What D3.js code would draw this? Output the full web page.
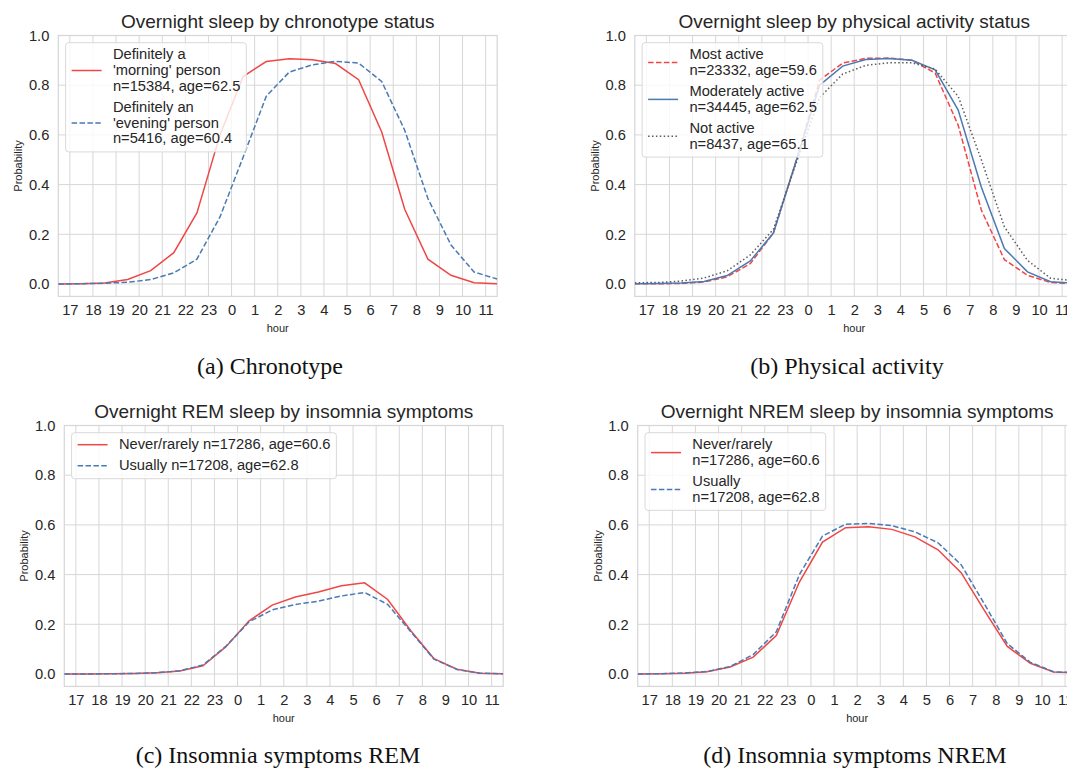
<!DOCTYPE html>
<html><head><meta charset="utf-8">
<script src="https://cdn.jsdelivr.net/npm/d3@7"></script>
<style>body{margin:0;background:#fff}</style>
</head><body><svg id="chart" width="1067" height="768"></svg>
<script>
// ---- data ----
const hours = [16.5,17.5,18.5,19.5,20.5,21.5,22.5,23.5,24.5,25.5,26.5,27.5,28.5,29.5,30.5,31.5,32.5,33.5,34.5,35.5];
const tickHours = [17,18,19,20,21,22,23,24,25,26,27,28,29,30,31,32,33,34,35];
const tickLabels = ["17","18","19","20","21","22","23","0","1","2","3","4","5","6","7","8","9","10","11"];
const yTicks = [0,0.2,0.4,0.6,0.8,1.0];

const chronoMorning = [0.000,0.001,0.004,0.018,0.054,0.126,0.286,0.600,0.835,0.895,0.906,0.902,0.887,0.822,0.612,0.300,0.100,0.035,0.005,0.001];
const chronoEvening = [0.000,0.001,0.003,0.007,0.018,0.045,0.100,0.270,0.510,0.755,0.853,0.882,0.896,0.889,0.815,0.618,0.344,0.157,0.048,0.020];

const activeMost     = [0.001,0.001,0.002,0.008,0.029,0.082,0.205,0.500,0.820,0.889,0.908,0.909,0.900,0.849,0.639,0.298,0.098,0.035,0.006,0.001];
const activeModerate = [0.001,0.002,0.004,0.010,0.034,0.093,0.205,0.500,0.800,0.877,0.903,0.907,0.900,0.862,0.700,0.390,0.143,0.049,0.009,0.003];
const activeNot      = [0.005,0.006,0.012,0.024,0.053,0.117,0.220,0.490,0.750,0.845,0.880,0.890,0.890,0.865,0.755,0.500,0.230,0.095,0.023,0.013];

const remNever    = [0.000,0.000,0.001,0.002,0.005,0.012,0.033,0.110,0.214,0.277,0.310,0.330,0.355,0.367,0.300,0.174,0.062,0.019,0.003,0.001];
const remUsually  = [0.000,0.000,0.001,0.002,0.005,0.013,0.036,0.112,0.210,0.258,0.280,0.293,0.314,0.328,0.280,0.170,0.060,0.018,0.003,0.001];

const nremNever   = [0.000,0.001,0.003,0.009,0.028,0.068,0.155,0.370,0.531,0.589,0.593,0.582,0.552,0.500,0.408,0.257,0.111,0.043,0.008,0.004];
const nremUsually = [0.000,0.001,0.004,0.010,0.030,0.078,0.170,0.400,0.555,0.603,0.606,0.597,0.572,0.528,0.440,0.283,0.122,0.047,0.009,0.005];

const titles = ["Overnight sleep by chronotype status","Overnight sleep by physical activity status","Overnight REM sleep by insomnia symptoms","Overnight NREM sleep by insomnia symptoms"];
const captions = ["(a) Chronotype","(b) Physical activity","(c) Insomnia symptoms REM","(d) Insomnia symptoms NREM"];

// ---- styles ----
const RED = "#f04646", BLUE = "#4a7ab3", GRAY = "#5c5c5c";
const SOLID = null, DASHED = "5.5,2.4", DOTTED = "1.5,2.4";
const TEXT = "#262626", GRID = "#d7d7d7";
const SANS = "'Liberation Sans', Arial, sans-serif";
const FS = 14.7;

const panels = [
  {left:58.3, top:35.5, capX:270, capY:374, title:titles[0], caption:captions[0],
   series:[{v:chronoMorning,c:RED,d:SOLID,label:["Definitely a","'morning' person","n=15384, age=62.5"]},
           {v:chronoEvening,c:BLUE,d:DASHED,label:["Definitely an","'evening' person","n=5416, age=60.4"]}]},
  {left:634.8, top:35.5, capX:847, capY:374, title:titles[1], caption:captions[1],
   series:[{v:activeMost,c:RED,d:DASHED,label:["Most active","n=23332, age=59.6"]},
           {v:activeModerate,c:BLUE,d:SOLID,label:["Moderately active","n=34445, age=62.5"]},
           {v:activeNot,c:GRAY,d:DOTTED,label:["Not active","n=8437, age=65.1"]}]},
  {left:64.3, top:425.5, capX:278, capY:763, title:titles[2], caption:captions[2],
   series:[{v:remNever,c:RED,d:SOLID,label:["Never/rarely n=17286, age=60.6"]},
           {v:remUsually,c:BLUE,d:DASHED,label:["Usually n=17208, age=62.8"]}]},
  {left:637.7, top:425.5, capX:855, capY:763, title:titles[3], caption:captions[3],
   series:[{v:nremNever,c:RED,d:SOLID,label:["Never/rarely","n=17286, age=60.6"]},
           {v:nremUsually,c:BLUE,d:DASHED,label:["Usually","n=17208, age=62.8"]}]}
];

const svg = d3.select("#chart");
svg.append("rect").attr("width",1067).attr("height",768).attr("fill","#fff");

const plotW = 23.1*19, unitH = 248.5, plotH = unitH*1.05;

panels.forEach((p,pi) => {
  const x = d3.scaleLinear().domain([16.5,35.5]).range([p.left, p.left+plotW]);
  const y = d3.scaleLinear().domain([-0.05,1]).range([p.top+plotH, p.top]);
  const g = svg.append("g");
  const clipId = "clip"+pi;
  svg.append("defs").append("clipPath").attr("id",clipId)
     .append("rect").attr("x",p.left).attr("y",p.top).attr("width",plotW).attr("height",plotH);

  // grid
  g.append("g").selectAll("line").data(tickHours).join("line")
    .attr("x1",d=>x(d)).attr("x2",d=>x(d)).attr("y1",p.top).attr("y2",p.top+plotH)
    .attr("stroke",GRID).attr("stroke-width",1);
  g.append("g").selectAll("line").data(yTicks).join("line")
    .attr("x1",p.left).attr("x2",p.left+plotW).attr("y1",d=>y(d)).attr("y2",d=>y(d))
    .attr("stroke",GRID).attr("stroke-width",1);
  g.append("rect").attr("x",p.left).attr("y",p.top).attr("width",plotW).attr("height",plotH)
    .attr("fill","none").attr("stroke",GRID).attr("stroke-width",1.25);

  // axes
  const xa = g.append("g").attr("transform",`translate(0,${p.top+plotH})`)
    .call(d3.axisBottom(x).tickValues(tickHours).tickFormat((d,i)=>tickLabels[i]).tickSize(0).tickPadding(8));
  xa.select(".domain").remove();
  xa.selectAll("text").attr("font-family",SANS).attr("font-size",FS).attr("fill",TEXT);
  const ya = g.append("g").attr("transform",`translate(${p.left},0)`)
    .call(d3.axisLeft(y).tickValues(yTicks).tickFormat(d3.format(".1f")).tickSize(0).tickPadding(9));
  ya.select(".domain").remove();
  ya.selectAll("text").attr("font-family",SANS).attr("font-size",FS).attr("fill",TEXT);

  g.append("text").attr("x",p.left+plotW/2).attr("y",p.top+plotH+36)
    .attr("text-anchor","middle").attr("font-family",SANS).attr("font-size",11).attr("fill",TEXT).text("hour");
  g.append("text").attr("transform",`translate(${p.left-40},${p.top+plotH/2}) rotate(-90)`)
    .attr("text-anchor","middle").attr("dominant-baseline","central")
    .attr("font-family",SANS).attr("font-size",11).attr("fill",TEXT).text("Probability");

  g.append("text").attr("x",p.left+plotW/2).attr("y",p.top-7.2)
    .attr("text-anchor","middle").attr("font-family",SANS).attr("font-size",19).attr("fill",TEXT).text(p.title);

  // lines
  const line = d3.line().x((d,i)=>x(hours[i])).y(d=>y(d));
  const lg = g.append("g").attr("clip-path",`url(#${clipId})`);
  p.series.forEach(s => {
    lg.append("path").datum(s.v).attr("d",line).attr("fill","none")
      .attr("stroke",s.c).attr("stroke-width",1.5).attr("stroke-dasharray",s.d);
  });

  // legend
  const bx = p.left+7.3, by = p.top+7.2;
  const leg = g.append("g");
  const box = leg.append("rect");
  let yy = by + 16.5, maxW = 0;
  const tx = bx + 47.3;
  p.series.forEach((s,si) => {
    if (si>0) yy += 21 - 16;
    const first = yy;
    s.label.forEach((ln,li) => {
      if (li>0) yy += 15.8;
      const t = leg.append("text").attr("x",tx).attr("y",yy).attr("font-family",SANS)
        .attr("font-size",FS).attr("fill",TEXT).text(ln);
      maxW = Math.max(maxW, t.node().getComputedTextLength());
    });
    const hy = (first+yy)/2 - 4.5;
    leg.append("line").attr("x1",bx+6).attr("x2",bx+36).attr("y1",hy).attr("y2",hy)
      .attr("stroke",s.c).attr("stroke-width",1.5).attr("stroke-dasharray",s.d);
    yy += 16;
  });
  const bottom = yy - 16 + 8.5;
  box.attr("x",bx).attr("y",by).attr("width",tx+maxW+6-bx).attr("height",bottom-by)
    .attr("rx",3).attr("fill","#fff").attr("fill-opacity",0.8).attr("stroke","#d9d9d9").attr("stroke-width",1);

  svg.append("text").attr("x",p.capX).attr("y",p.capY).attr("text-anchor","middle")
    .attr("font-family","'Liberation Serif', 'Times New Roman', serif").attr("font-size",24).attr("fill","#111").text(p.caption);
});
</script></body></html>
